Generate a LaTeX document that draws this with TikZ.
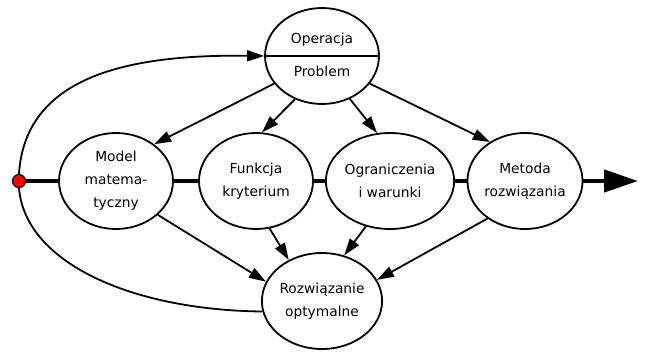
\documentclass[tikz,border=0pt]{standalone}
\usepackage{fontspec}
\setmainfont{DejaVu Sans}
\usepackage{tikz}
\usetikzlibrary{shapes.geometric}
\usetikzlibrary{arrows.meta}

\begin{document}
\begin{tikzpicture}[x=1pt, y=-1pt, line width=1.8pt,
		every node/.style={font=\fontsize{13.8}{23}\selectfont, align=center},
		ell/.style={ellipse, draw, minimum width=114pt, minimum height=96pt, inner sep=0pt},
		arr/.style={-{Triangle[length=17pt,width=11pt]}},
		main/.style={line width=4.5pt}]
	\useasboundingbox (0,0) rectangle (645,356);
	% top and bottom
	\node[ell](oper) at (322,56){};
	\draw (oper.west) -- (oper.east);
	\node(operTop) at (322,40){Operacja};
	\node(operBot) at (322,71){Problem};
	\node[ell](rozw) at (322,301){Rozwiązanie\\optymalne};
	% middle row
	\node[ell](model) at (116,181){Model\\matema-\\tyczny};
	\node[ell](funk) at (256,181){Funkcja\\kryterium};
	\node[ell](ogr) at (390,181){Ograniczenia\\i warunki};
	\node[ell](metoda) at (525,181){Metoda\\rozwiązania};
	\node[circle, draw, fill=red, line width=1.2pt, minimum size=13pt, inner sep=0pt](start) at (19,181){};
	\coordinate(end) at (638,181);
	\draw[main] (start) -- (model) (model) -- (funk) (funk) -- (ogr) (ogr) -- (metoda);
	\draw[main, -{Triangle[length=34pt,width=22pt]}] (metoda) -- (end);
	% feedback
	\draw[arr] (start.north) .. controls (25,80) and (120,54) .. (oper.west);
	\draw (start.south) .. controls (25,262) and (130,310) .. (rozw.190);
	% problem -> row
	\draw[arr] (oper.210) -- (model.44);
	\draw[arr] (oper.238) -- (funk.83);
	\draw[arr] (oper.303) -- (ogr.105);
	\draw[arr] (oper.330) -- (metoda.132);
	% row -> solution
	\draw[arr] (model.321) -- (rozw.161);
	\draw[arr] (funk.286) -- (rozw.129);
	\draw[arr] (ogr.242) -- (rozw.64);
	\draw[arr] (metoda.225) -- (rozw.21);
\end{tikzpicture}
\end{document}
